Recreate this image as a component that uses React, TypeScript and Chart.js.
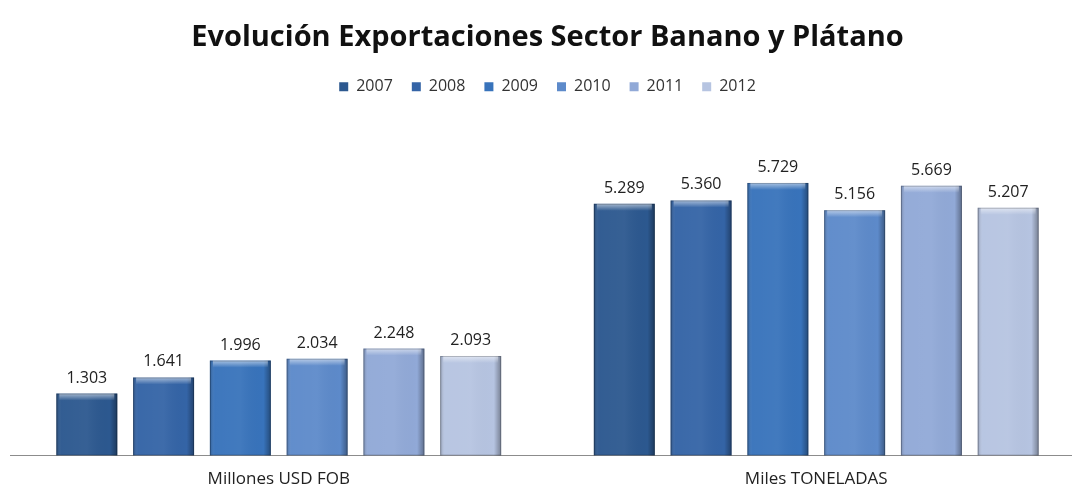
import React, { useEffect, useRef } from "react";
import { Chart, registerables } from "chart.js";

Chart.register(...registerables);

const categories = ["Millones USD FOB", "Miles TONELADAS"];
const years = ["2007", "2008", "2009", "2010", "2011", "2012"];
const values2007 = [1303, 5289];
const values2008 = [1641, 5360];
const values2009 = [1996, 5729];
const values2010 = [2034, 5156];
const values2011 = [2248, 5669];
const values2012 = [2093, 5207];
const seriesValues = [values2007, values2008, values2009, values2010, values2011, values2012];
const colors = ["#2c588f", "#3464a6", "#3873bb", "#5d8aca", "#91a9d7", "#b6c4e1"];

const FONT = "'Open Sans', 'Liberation Sans', sans-serif";

function fmt(v: number): string {
  const s = String(Math.round(v));
  return s.replace(/\B(?=(\d{3})+(?!\d))/g, ".");
}

const bevelPlugin = {
  id: "bevel",
  afterDatasetsDraw(chart: any) {
    const ctx = chart.ctx;
    chart.data.datasets.forEach((ds: any, di: number) => {
      const meta = chart.getDatasetMeta(di);
      meta.data.forEach((bar: any, j: number) => {
        const { x, y, base, width } = bar.getProps(["x", "y", "base", "width"], true);
        const left = x - width / 2;
        const h = base - y;
        ctx.save();
        const g = ctx.createLinearGradient(left, 0, left + width, 0);
        g.addColorStop(0, "rgba(0,0,0,0.22)");
        g.addColorStop(0.08, "rgba(255,255,255,0.03)");
        g.addColorStop(0.5, "rgba(255,255,255,0.05)");
        g.addColorStop(0.88, "rgba(0,0,0,0.0)");
        g.addColorStop(1, "rgba(0,0,0,0.35)");
        ctx.fillStyle = g;
        ctx.fillRect(left, y, width, h);
        const tg = ctx.createLinearGradient(0, y, 0, y + 7);
        tg.addColorStop(0, "rgba(255,255,255,0.55)");
        tg.addColorStop(1, "rgba(255,255,255,0)");
        ctx.fillStyle = tg;
        ctx.fillRect(left + 3, y, width - 6, 7);
        ctx.strokeStyle = "rgba(0,0,0,0.22)";
        ctx.lineWidth = 1;
        ctx.strokeRect(left + 0.5, y + 0.5, width - 1, h - 1);
        ctx.fillStyle = "#222";
        ctx.font = `16px ${FONT}`;
        ctx.textAlign = "center";
        ctx.textBaseline = "alphabetic";
        ctx.fillText(fmt(ds.data[j]), x, y - 11);
        ctx.restore();
      });
    });
  },
};

export default function App() {
  const ref = useRef<HTMLCanvasElement>(null);
  useEffect(() => {
    if (!ref.current) return;
    const chart = new Chart(ref.current, {
      type: "bar",
      data: {
        labels: categories,
        datasets: years.map((yr, i) => ({
          label: yr,
          data: seriesValues[i],
          backgroundColor: colors[i],
          borderWidth: 0,
          categoryPercentage: 0.857,
          barPercentage: 0.794,
        })),
      },
      options: {
        responsive: false,
        animation: false,
        devicePixelRatio: 1,
        layout: { padding: { left: 10, right: 0, top: 0, bottom: 0 } },
        plugins: {
          title: {
            display: true,
            text: "Evolución Exportaciones Sector Banano y Plátano",
            color: "#111",
            font: { family: FONT, size: 29, weight: "bold" },
            padding: { top: 20, bottom: 5 },
          },
          legend: {
            display: true,
            labels: {
              boxWidth: 9,
              boxHeight: 9,
              padding: 19,
              color: "#333",
              font: { family: FONT, size: 16 },
            },
          },
          tooltip: { enabled: false },
        },
        scales: {
          x: {
            grid: { display: false, drawTicks: false },
            border: { display: true, color: "#8c8c8c", width: 1 },
            ticks: { color: "#222", font: { family: FONT, size: 17 }, padding: 13 },
          },
          y: {
            display: false,
            min: 0,
            max: 7370,
          },
        },
      },
      plugins: [bevelPlugin],
    });
    return () => chart.destroy();
  }, []);
  return (
    <div style={{ position: "fixed", left: 0, top: 0, width: 1072, height: 493, overflow: "hidden", background: "#fff" }}>
      <canvas ref={ref} width={1085} height={502} style={{ display: "block" }} />
    </div>
  );
}
